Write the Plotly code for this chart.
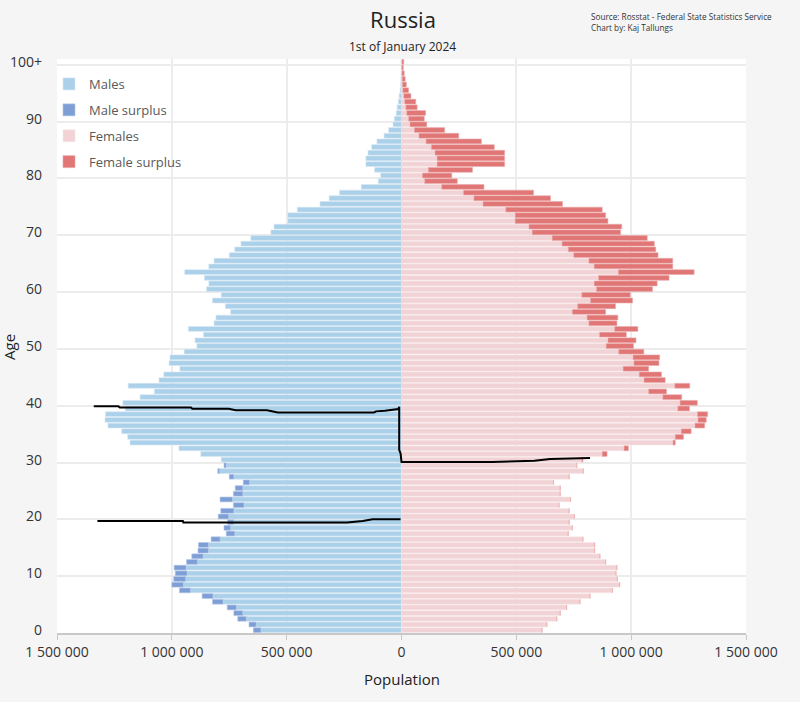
import plotly.graph_objects as go

# single years of age, last row is 100+
ages = list(range(0, 101))
age_labels = ["0", "10", "20", "30", "40", "50", "60", "70", "80", "90", "100+"]

males = [645000, 664000, 713000, 730000, 759000, 823000, 868000, 967000, 1000000, 992000,
         985000, 990000, 936000, 913000, 886000, 884000, 829000, 763000, 773000, 757000,
         798000, 787000, 732000, 790000, 732000, 724000, 689000, 750000, 800000, 773000,
         785000, 874000, 969000, 1182000, 1192000, 1218000, 1278000, 1291000, 1289000, 1203000,
         1213000, 1138000, 1076000, 1190000, 1056000, 1035000, 965000, 1012000, 1008000, 946000,
         891000, 899000, 862000, 928000, 816000, 808000, 744000, 767000, 823000, 785000,
         849000, 839000, 858000, 944000, 839000, 816000, 750000, 726000, 699000, 656000,
         569000, 555000, 495000, 495000, 454000, 355000, 315000, 270000, 175000, 101000,
         91000, 117000, 155000, 155000, 146000, 130000, 107000, 76000, 56000, 37000,
         31000, 23000, 19000, 14000, 10000, 6000, 4000, 3000, 2000, 1500,
         2000]

females = [612000, 633000, 676000, 691000, 719000, 777000, 821000, 919000, 950000, 940000,
           934000, 938000, 889000, 864000, 841000, 841000, 790000, 726000, 744000, 730000,
           753000, 730000, 686000, 736000, 691000, 691000, 662000, 730000, 792000, 763000,
           790000, 895000, 988000, 1192000, 1228000, 1261000, 1320000, 1327000, 1333000, 1254000,
           1288000, 1220000, 1154000, 1255000, 1148000, 1132000, 1076000, 1121000, 1124000, 1055000,
           1010000, 1021000, 979000, 1029000, 938000, 942000, 889000, 932000, 1006000, 996000,
           1093000, 1113000, 1165000, 1274000, 1181000, 1181000, 1117000, 1107000, 1101000, 1070000,
           954000, 959000, 899000, 889000, 874000, 701000, 649000, 575000, 359000, 243000,
           219000, 309000, 449000, 449000, 449000, 404000, 348000, 249000, 188000, 110000,
           99000, 105000, 68000, 62000, 41000, 31000, 21000, 16000, 12000, 8000,
           10000]

# hand drawn black lines on top of the chart
line1_x = [-1340000, -1233000, -1227000, -917000, -911000, -752000, -722000, -586000, -538000,
           -120000, -111000, -72000, -14000, -10000, -10000, -4000, 0, 394000, 579000, 647000, 821000]
line1_y = [39.4, 39.4, 39.2, 39.2, 38.96, 38.96, 38.7, 38.7, 38.3,
           38.3, 38.5, 38.6, 38.9, 39.3, 31.7, 31.1, 29.6, 29.6, 29.8, 30.1, 30.3]
line2_x = [-1324000, -952000, -950000, -237000, -169000, -126000, -4000]
line2_y = [19.2, 19.2, 18.96, 18.96, 19.2, 19.5, 19.5]

x_ticks = [-1500000, -1000000, -500000, 0, 500000, 1000000, 1500000]
x_labels = ["1 500 000", "1 000 000", "500 000", "0", "500 000", "1 000 000", "1 500 000"]

common = [min(m, f) for m, f in zip(males, females)]
male_surplus = [max(m - f, 0) for m, f in zip(males, females)]
female_surplus = [max(f - m, 0) for m, f in zip(males, females)]

FONT = "Open Sans"
W, H = 800, 702
ML, MR, MT, MB = 57, 54, 59, 69
plot_w = W - ML - MR
plot_h = H - MT - MB


def px_x(x):
    # page pixel -> paper x
    return (x - ML) / plot_w


def px_y(y):
    # page pixel -> paper y
    return (H - MB - y) / plot_h


fig = go.Figure()
fig.add_trace(go.Bar(y=ages, x=[-v for v in common], orientation="h", name="Males",
                     legendgroup="a", marker=dict(color="#abd0ea", line=dict(color="#d6e8f4", width=0.6))))
fig.add_trace(go.Bar(y=ages, x=[-v for v in male_surplus], orientation="h", name="Male surplus",
                     legendgroup="b", marker=dict(color="#7e9fd6", line=dict(color="#b3c6e8", width=0.6))))
fig.add_trace(go.Bar(y=ages, x=common, orientation="h", name="Females",
                     legendgroup="c", marker=dict(color="#f1d3d6", line=dict(color="#f8e8ea", width=0.6))))
fig.add_trace(go.Bar(y=ages, x=female_surplus, orientation="h", name="Female surplus",
                     legendgroup="d", marker=dict(color="#e07676", line=dict(color="#eda9a9", width=0.6))))

fig.add_trace(go.Scatter(x=line1_x, y=line1_y, mode="lines", line=dict(color="black", width=2),
                         showlegend=False, hoverinfo="skip"))
fig.add_trace(go.Scatter(x=line2_x, y=line2_y, mode="lines", line=dict(color="black", width=2),
                         showlegend=False, hoverinfo="skip"))

fig.update_layout(
    width=W, height=H,
    barmode="relative", bargap=0.15,
    paper_bgcolor="#f5f5f5", plot_bgcolor="white",
    margin=dict(l=ML, r=MR, t=MT, b=MB, autoexpand=False),
    font=dict(family=FONT, color="#404040"),
    title=dict(text="Russia", x=403 / W, xanchor="center",
               y=1 - 20 / H, yanchor="middle",
               font=dict(size=22, color="#222222", family=FONT)),
    legend=dict(x=px_x(49), y=px_y(69), xanchor="left", yanchor="top", traceorder="grouped",
                tracegroupgap=6, itemwidth=30, bgcolor="rgba(0,0,0,0)",
                font=dict(size=13, color="#595959")),
    xaxis=dict(range=[-1500000, 1500000], tickvals=x_ticks, ticktext=x_labels, automargin=False,
               showgrid=True, gridcolor="#ececec", gridwidth=2, zeroline=False,
               showline=True, linecolor="#c8c8c8", linewidth=1.5,
               ticks="outside", ticklen=5, tickcolor="#c8c8c8",
               tickfont=dict(size=14, color="#333333")),
    yaxis=dict(range=[-0.5, 100.5], tickvals=[0, 10, 20, 30, 40, 50, 60, 70, 80, 90, 100],
               ticktext=age_labels, showgrid=False, zeroline=False, ticks="", automargin=False,
               ticklabelstandoff=14, tickfont=dict(size=14, color="#333333"),
               minor=dict(tickmode="linear", tick0=-0.5, dtick=10, showgrid=True,
                          gridcolor="#ececec", gridwidth=2, ticks="")),
    annotations=[
        dict(text="1st of January 2024", x=px_x(403), y=px_y(47), xref="paper", yref="paper",
             xanchor="center", yanchor="middle", showarrow=False,
             font=dict(size=12, color="#222222")),
        dict(text="Source: Rosstat - Federal State Statistics Service<br>Chart by: Kaj Tallungs",
             x=px_x(589), y=px_y(9), xref="paper", yref="paper", xanchor="left", yanchor="top",
             align="left", showarrow=False, font=dict(size=8.2, color="#333333")),
        dict(text="Population", x=px_x(402), y=px_y(679), xref="paper", yref="paper",
             xanchor="center", yanchor="middle", showarrow=False,
             font=dict(size=15, color="#222222")),
        dict(text="Age", x=px_x(9), y=px_y(347), xref="paper", yref="paper", textangle=-90,
             xanchor="center", yanchor="middle", showarrow=False,
             font=dict(size=15, color="#222222")),
    ],
)

fig.write_html("out.html", config={"displayModeBar": False},
               post_script="document.body.style.margin='0';")
